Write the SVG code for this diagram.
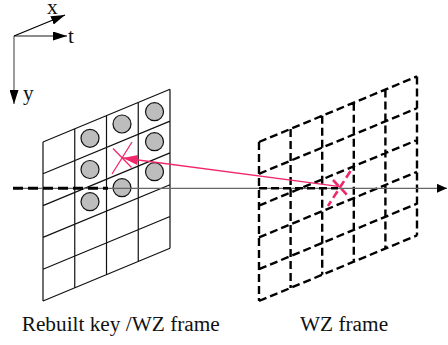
<svg xmlns="http://www.w3.org/2000/svg" width="448" height="345" viewBox="0 0 448 345">
  <style>
    text { font-family: 'Liberation Serif', 'Times New Roman', 'DejaVu Serif', serif; font-size: 21.3px; fill: #111; }
    .grid { fill: none; stroke: #111; stroke-width: 1.2; }
    .dgrid { fill: none; stroke: #000; stroke-width: 2.4; stroke-dasharray: 8 4; }
    .blk { fill: #bdbdbd; stroke: #111; stroke-width: 1.2; }
    .gray { fill: none; stroke: #666; stroke-width: 1.3; }
    .pink { fill: none; stroke: #f0286a; }
  </style>
  <defs>
    <marker id="headBig" markerUnits="userSpaceOnUse" markerWidth="14" markerHeight="9" refX="14" refY="4.5" orient="auto">
      <path d="M0,0 L14,4.5 L0,9 Z" fill="#000"/>
    </marker>
    <marker id="headSmall" markerUnits="userSpaceOnUse" markerWidth="10" markerHeight="9" refX="10" refY="4.5" orient="auto">
      <path d="M0,0 L10,4.5 L0,9 Z" fill="#000"/>
    </marker>
    <marker id="headPink" markerUnits="userSpaceOnUse" markerWidth="15" markerHeight="10" refX="15" refY="5" orient="auto">
      <path d="M0,0 L15,5 L0,10 Z" fill="#f0286a"/>
    </marker>
  </defs>

  <!-- coordinate axes -->
  <g id="coord-axes">
    <line class="gray" x1="14" y1="36" x2="67" y2="36" marker-end="url(#headBig)"/>
    <line class="gray" x1="14" y1="36" x2="14" y2="104" marker-end="url(#headBig)"/>
    <line x1="14" y1="36" x2="65" y2="15" stroke="#000" stroke-width="1.3" marker-end="url(#headBig)"/>
    <text x="47" y="14">x</text>
    <text x="68" y="43">t</text>
    <text x="23" y="100">y</text>
  </g>

  <!-- reference frame: solid 4x5 grid with block circles -->
  <g id="frame-rebuilt">
    <path class="grid" d="M43,142 L43,301 M74.75,128.8 L74.75,287.8 M106.5,115.65 L106.5,274.65 M138.25,102.47 L138.25,261.47 M170,89.3 L170,248.3
      M43,142 L170,89.3 M43,173.8 L170,121.1 M43,205.6 L170,152.9 M43,237.4 L170,184.7 M43,269.2 L170,216.5 M43,301 L170,248.3"/>
    <circle class="blk" cx="90" cy="138.3" r="9"/>
    <circle class="blk" cx="122" cy="124" r="9"/>
    <circle class="blk" cx="154.5" cy="111.7" r="9"/>
    <circle class="blk" cx="90" cy="169.5" r="9"/>
    <circle class="blk" cx="154.5" cy="141.7" r="9"/>
    <circle class="blk" cx="90" cy="201.7" r="9"/>
    <circle class="blk" cx="122" cy="187.7" r="9"/>
    <circle class="blk" cx="154.5" cy="171.7" r="9"/>
    <path class="pink" stroke-width="1.3" d="M113,148.5 L131.5,167.5 M132,142 L112,174"/>
    <text x="21.7" y="331">Rebuilt key /WZ frame</text>
  </g>

  <!-- current WZ frame: dashed 5x5 grid -->
  <g id="frame-wz">
    <path class="dgrid" d="M259,142 L259,301 M290.6,128.89 L290.6,287.89 M322.2,115.77 L322.2,274.77 M353.8,102.66 L353.8,261.66 M385.4,89.54 L385.4,248.54 M417,76.43 L417,235.43
      M259,142 L417,76.43 M259,173.8 L417,108.23 M259,205.6 L417,140.03 M259,237.4 L417,171.83 M259,269.2 L417,203.63 M259,301 L417,235.43"/>
    <path class="pink" stroke-width="2.6" stroke-dasharray="8 4" d="M333,180 L349.5,197.5 M350.5,171 L328,206"/>
    <text x="300" y="331">WZ frame</text>
  </g>

  <!-- time axis and motion vector -->
  <g id="connectors">
    <line class="gray" x1="13" y1="188.3" x2="447" y2="188.3" marker-end="url(#headSmall)"/>
    <line x1="13" y1="188.3" x2="108" y2="188.3" stroke="#000" stroke-width="3" stroke-dasharray="10 5"/>
    <line x1="259" y1="188.3" x2="338" y2="188.3" stroke="#000" stroke-width="2.6" stroke-dasharray="8 4"/>
    <line class="pink" stroke-width="1.3" x1="340" y1="186.7" x2="123" y2="158" marker-end="url(#headPink)"/>
  </g>
</svg>
